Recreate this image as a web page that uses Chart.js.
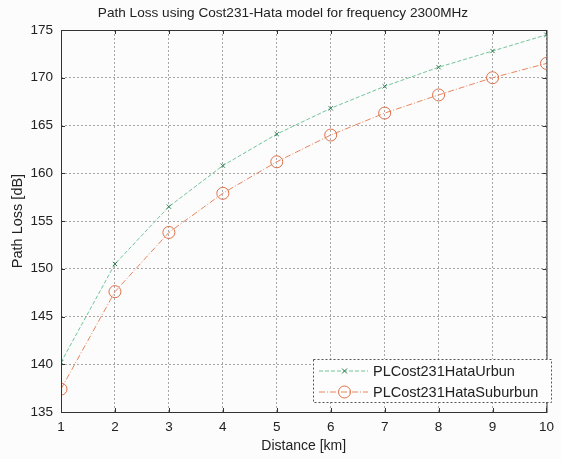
<!DOCTYPE html>
<html>
<head>
<meta charset="utf-8">
<script src="https://cdn.jsdelivr.net/npm/chart.js@4/dist/chart.umd.min.js"></script>
<style>
  html, body { margin: 0; padding: 0; background: #fcfcfc; }
  #wrap { width: 561px; height: 459px; position: relative; }
</style>
</head>
<body>
<div id="wrap"><canvas id="c" width="561" height="459"></canvas></div>
<script>
const distanceKm = [1, 2, 3, 4, 5, 6, 7, 8, 9, 10];
const urbanPL    = [140.2, 150.5, 156.5, 160.8, 164.1, 166.8, 169.1, 171.1, 172.8, 174.5];
const suburbanPL = [137.4, 147.6, 153.8, 157.9, 161.2, 164.0, 166.3, 168.2, 170.0, 171.5];
const seriesNames = ['PLCost231HataUrbun', 'PLCost231HataSuburbun'];
const xTicks = [1, 2, 3, 4, 5, 6, 7, 8, 9, 10];
const yTicks = [135, 140, 145, 150, 155, 160, 165, 170, 175];
const titleText = 'Path Loss using Cost231-Hata model for frequency 2300MHz';
const xTitle = 'Distance [km]';
const yTitle = 'Path Loss [dB]';

const FONT = 'Liberation Sans, Arial, sans-serif';
const urbanLine = '#72c49a', urbanMark = '#2f7d52';
const subLine = '#e8865f', subMark = '#e0714a';

const toXY = (xs, ys) => xs.map((x, i) => ({x, y: ys[i]}));

const framePlugin = {
  id: 'frame',
  afterDatasetsDraw(chart) {
    const {ctx, chartArea: a, scales: {x, y}} = chart;
    ctx.save();
    ctx.strokeStyle = '#333';
    ctx.lineWidth = 1;
    ctx.setLineDash([]);
    ctx.strokeRect(a.left + 0.5, a.top + 0.5, a.right - a.left, a.bottom - a.top);
    ctx.beginPath();
    xTicks.forEach(v => {
      const px = Math.round(x.getPixelForValue(v)) + 0.5;
      ctx.moveTo(px, a.bottom); ctx.lineTo(px, a.bottom - 4);
      ctx.moveTo(px, a.top); ctx.lineTo(px, a.top + 4);
    });
    yTicks.forEach(v => {
      const py = Math.round(y.getPixelForValue(v)) + 0.5;
      ctx.moveTo(a.left, py); ctx.lineTo(a.left + 4, py);
      ctx.moveTo(a.right, py); ctx.lineTo(a.right - 4, py);
    });
    ctx.stroke();

    const lx = 313, ly = 359, lw = 238, lh = 43;
    ctx.fillStyle = '#fdfdfd';
    ctx.fillRect(lx, ly, lw, lh);
    ctx.strokeStyle = '#555';
    ctx.setLineDash([2, 2]);
    ctx.strokeRect(lx + 0.5, ly + 0.5, lw, lh);
    const rows = [
      {y: 371, line: urbanLine, mark: urbanMark, style: 'x', dash: [4, 2]},
      {y: 392, line: subLine, mark: subMark, style: 'o', dash: [6, 2, 1, 2]}
    ];
    rows.forEach((r, i) => {
      ctx.strokeStyle = r.line;
      ctx.lineWidth = 1;
      ctx.setLineDash(r.dash);
      ctx.beginPath();
      ctx.moveTo(319, r.y); ctx.lineTo(368, r.y);
      ctx.stroke();
      ctx.setLineDash([]);
      ctx.strokeStyle = r.mark;
      ctx.beginPath();
      if (r.style === 'x') {
        ctx.moveTo(342, r.y - 2.5); ctx.lineTo(347, r.y + 2.5);
        ctx.moveTo(347, r.y - 2.5); ctx.lineTo(342, r.y + 2.5);
      } else {
        ctx.arc(344.5, r.y, 6, 0, Math.PI * 2);
      }
      ctx.stroke();
      ctx.fillStyle = '#222';
      ctx.font = '14.5px ' + FONT;
      ctx.textBaseline = 'middle';
      ctx.textAlign = 'left';
      ctx.fillText(seriesNames[i], 373, r.y + 1);
    });
    ctx.restore();
  }
};

new Chart(document.getElementById('c'), {
  type: 'line',
  data: {
    datasets: [
      {
        label: seriesNames[0],
        data: toXY(distanceKm, urbanPL),
        borderColor: urbanLine,
        borderWidth: 1,
        borderDash: [4, 2],
        pointStyle: 'crossRot',
        pointRadius: 3,
        pointBorderColor: urbanMark,
        pointBorderWidth: 1,
        pointBackgroundColor: 'transparent',
        fill: false,
        tension: 0
      },
      {
        label: seriesNames[1],
        data: toXY(distanceKm, suburbanPL),
        borderColor: subLine,
        borderWidth: 1,
        borderDash: [6, 2, 1, 2],
        pointStyle: 'circle',
        pointRadius: 6,
        pointBorderColor: subMark,
        pointBorderWidth: 1,
        pointBackgroundColor: 'transparent',
        fill: false,
        tension: 0
      }
    ]
  },
  options: {
    responsive: false,
    animation: false,
    devicePixelRatio: 1,
    layout: { padding: { top: 30, right: 10, left: 0, bottom: 0 } },
    plugins: {
      legend: { display: false },
      tooltip: { enabled: false },
      title: { display: false }
    },
    scales: {
      x: {
        type: 'linear',
        min: 1, max: 10,
        afterBuildTicks: s => { s.ticks = xTicks.map(v => ({value: v})); },
        afterFit: s => { s.height = 47; },
        grid: { color: '#a6a6a6', lineWidth: 1, drawTicks: false },
        border: { display: false, dash: [2, 2] },
        ticks: { padding: 7, color: '#222', font: { family: FONT, size: 13.5 }, maxRotation: 0 },
        title: { display: true, text: xTitle, color: '#222', font: { family: FONT, size: 14 }, padding: { top: 0, bottom: 4 } }
      },
      y: {
        type: 'linear',
        min: 135, max: 175,
        afterBuildTicks: s => { s.ticks = yTicks.map(v => ({value: v})); },
        afterFit: s => { s.width = 61; },
        grid: { color: '#a6a6a6', lineWidth: 1, drawTicks: false },
        border: { display: false, dash: [2, 2] },
        ticks: { padding: 8, color: '#222', font: { family: FONT, size: 13.5 } },
        title: { display: true, text: yTitle, color: '#222', font: { family: FONT, size: 14.5 }, padding: { top: 9, bottom: 0 } }
      }
    }
  },
  plugins: [
    {
      id: 'bg',
      beforeDraw(chart) {
        const ctx = chart.ctx;
        ctx.save();
        ctx.fillStyle = '#fcfcfc';
        ctx.fillRect(0, 0, chart.width, chart.height);
        ctx.restore();
      },
      afterDraw(chart) {
        const ctx = chart.ctx;
        ctx.save();
        ctx.fillStyle = '#222';
        ctx.font = '13.6px ' + FONT;
        ctx.textAlign = 'center';
        ctx.textBaseline = 'middle';
        ctx.fillText(titleText, 283, 13);
        ctx.restore();
      }
    },
    framePlugin
  ]
});
</script>
</body>
</html>
